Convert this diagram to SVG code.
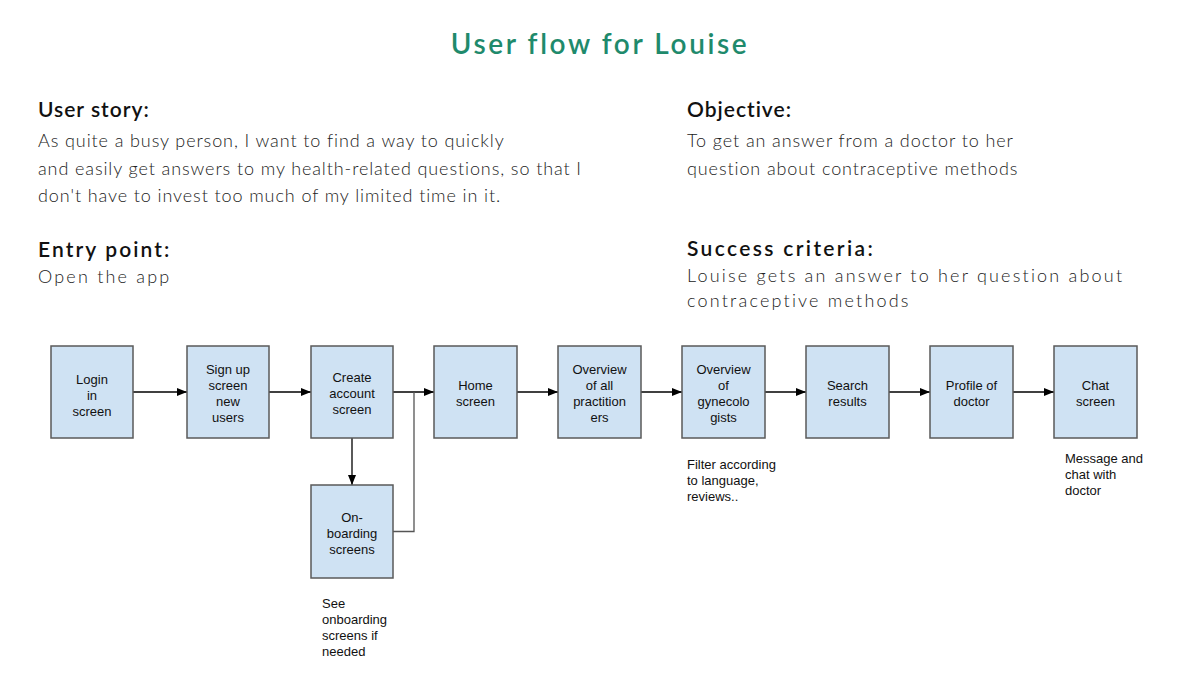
<svg xmlns="http://www.w3.org/2000/svg" width="1200" height="700" viewBox="0 0 1200 700">
<defs>
<marker id="ah" markerWidth="10" markerHeight="8" refX="10" refY="4" orient="auto" markerUnits="userSpaceOnUse">
<path d="M0,0 L10,4 L0,8 Z" fill="#000"/>
</marker>
<style>
.title{font-family:Lato,"Noto Sans",sans-serif;font-size:28px;fill:#1f8a6c;font-weight:600;letter-spacing:2.6px}
.h{font-family:Lato,"Noto Sans",sans-serif;font-size:21px;font-weight:600;fill:#111;letter-spacing:1px}
.b{font-family:Lato,"Noto Sans",sans-serif;font-size:18px;font-weight:300;fill:#222;letter-spacing:0.9px}
.bs{font-family:Lato,"Noto Sans",sans-serif;font-size:18px;font-weight:300;fill:#222;letter-spacing:2.2px}
.box{fill:#cfe2f3;stroke:#5a5a5a;stroke-width:1.5}
.t{font-family:"Liberation Sans",Arial,sans-serif;font-size:13px;fill:#111;text-anchor:middle}
.n{font-family:"Liberation Sans",Arial,sans-serif;font-size:13px;fill:#111}
.c{stroke:#000;stroke-width:1.3;fill:none}
.c2{stroke:#555;stroke-width:1.3;fill:none}
</style>
</defs>
<rect width="1200" height="700" fill="#fff"/>
<text class="title" x="600" y="54" text-anchor="middle">User flow for Louise</text>
<text class="h" x="38" y="117">User story:</text>
<text class="b" x="38" y="147">As quite a busy person, I want to find a way to quickly</text>
<text class="b" x="38" y="175">and easily get answers to my health-related questions, so that I</text>
<text class="b" x="38" y="202">don't have to invest too much of my limited time in it.</text>
<text class="h" x="38" y="257" style="letter-spacing:2.1px">Entry point:</text>
<text class="bs" x="38" y="283">Open the app</text>
<text class="h" x="687" y="117">Objective:</text>
<text class="b" x="687" y="147">To get an answer from a doctor to her</text>
<text class="b" x="687" y="175">question about contraceptive methods</text>
<text class="h" x="687" y="256" style="letter-spacing:2.35px">Success criteria:</text>
<text class="bs" x="687" y="282">Louise gets an answer to her question about</text>
<text class="bs" x="687" y="307">contraceptive methods</text>

<g id="connectors">
<line class="c" x1="133" y1="392" x2="187" y2="392" marker-end="url(#ah)"/>
<line class="c" x1="269" y1="392" x2="311" y2="392" marker-end="url(#ah)"/>
<line class="c" x1="393" y1="392" x2="434" y2="392" marker-end="url(#ah)"/>
<line class="c" x1="352" y1="438" x2="352" y2="485" marker-end="url(#ah)"/>
<polyline class="c2" points="393,531.5 414,531.5 414,392"/>
<line class="c" x1="517" y1="392" x2="558" y2="392" marker-end="url(#ah)"/>
<line class="c" x1="641" y1="392" x2="682" y2="392" marker-end="url(#ah)"/>
<line class="c" x1="765" y1="392" x2="806" y2="392" marker-end="url(#ah)"/>
<line class="c" x1="889" y1="392" x2="930" y2="392" marker-end="url(#ah)"/>
<line class="c" x1="1013" y1="392" x2="1054" y2="392" marker-end="url(#ah)"/>
</g>

<g id="login"><rect class="box" x="51" y="346" width="82" height="92"/>
<text class="t" x="92" y="384">Login</text><text class="t" x="92" y="400">in</text><text class="t" x="92" y="416">screen</text></g>
<g id="signup"><rect class="box" x="187" y="346" width="82" height="92"/>
<text class="t" x="228" y="374">Sign up</text><text class="t" x="228" y="390">screen</text><text class="t" x="228" y="406">new</text><text class="t" x="228" y="422">users</text></g>
<g id="create"><rect class="box" x="311" y="346" width="82" height="92"/>
<text class="t" x="352" y="382">Create</text><text class="t" x="352" y="398">account</text><text class="t" x="352" y="414">screen</text></g>
<g id="onboarding"><rect class="box" x="311" y="485" width="82" height="93"/>
<text class="t" x="352" y="522">On-</text><text class="t" x="352" y="538">boarding</text><text class="t" x="352" y="554">screens</text></g>
<g id="home"><rect class="box" x="434" y="346" width="83" height="92"/>
<text class="t" x="475.5" y="390">Home</text><text class="t" x="475.5" y="406">screen</text></g>
<g id="overview-all"><rect class="box" x="558" y="346" width="83" height="92"/>
<text class="t" x="599.5" y="374">Overview</text><text class="t" x="599.5" y="390">of all</text><text class="t" x="599.5" y="406">practition</text><text class="t" x="599.5" y="422">ers</text></g>
<g id="overview-gyn"><rect class="box" x="682" y="346" width="83" height="92"/>
<text class="t" x="723.5" y="374">Overview</text><text class="t" x="723.5" y="390">of</text><text class="t" x="723.5" y="406">gynecolo</text><text class="t" x="723.5" y="422">gists</text></g>
<g id="search"><rect class="box" x="806" y="346" width="83" height="92"/>
<text class="t" x="847.5" y="390">Search</text><text class="t" x="847.5" y="406">results</text></g>
<g id="profile"><rect class="box" x="930" y="346" width="83" height="92"/>
<text class="t" x="971.5" y="390">Profile of</text><text class="t" x="971.5" y="406">doctor</text></g>
<g id="chat"><rect class="box" x="1054" y="346" width="83" height="92"/>
<text class="t" x="1095.5" y="390">Chat</text><text class="t" x="1095.5" y="406">screen</text></g>

<g id="notes">
<text class="n" x="322" y="608">See</text><text class="n" x="322" y="624">onboarding</text><text class="n" x="322" y="640">screens if</text><text class="n" x="322" y="656">needed</text>
<text class="n" x="687" y="469">Filter according</text><text class="n" x="687" y="485">to language,</text><text class="n" x="687" y="501">reviews..</text>
<text class="n" x="1065" y="463">Message and</text><text class="n" x="1065" y="479">chat with</text><text class="n" x="1065" y="495">doctor</text>
</g>
</svg>
